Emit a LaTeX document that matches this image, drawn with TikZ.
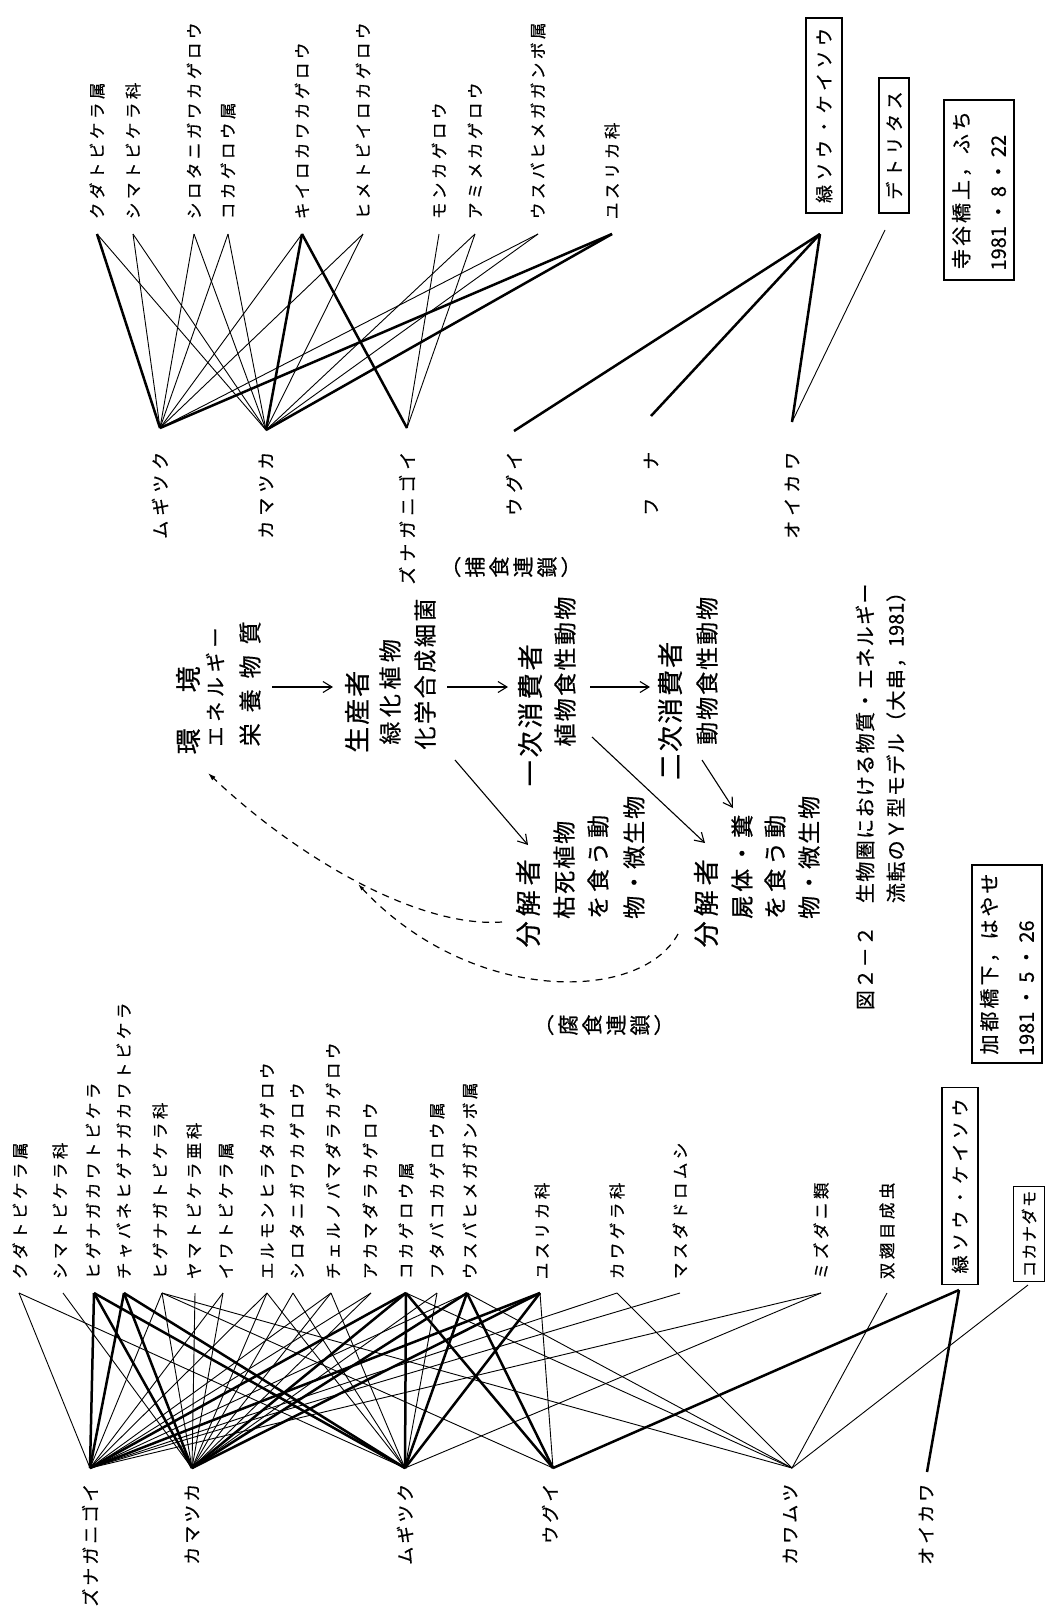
\documentclass[tikz,border=0pt]{standalone}
\usepackage{fontspec}
\setmainfont[FakeBold=0.6]{Noto Sans CJK JP}
\usetikzlibrary{arrows.meta}
\makeatletter
\newcommand\pitched[2]{\def\pt@w{#1}\edef\pt@list{#2}\expandafter\pt@loop\pt@list\pt@end}
\def\pt@loop#1{\ifx#1\pt@end\else\makebox[\pt@w][c]{#1}\expandafter\pt@loop\fi}
\makeatother
\tikzset{
  lab/.style={rotate=90,inner sep=0pt,font=\fontsize{16.5}{16.5}\selectfont},
  fishlab/.style={rotate=90,inner sep=0pt,font=\fontsize{18}{18}\selectfont},
  ctxt/.style={rotate=90,inner sep=0pt,anchor=west,font=\fontsize{23}{23}\selectfont},
  ctxtb/.style={ctxt,font=\fontsize{26}{26}\selectfont},
  lk/.style={line width=0.9pt},
  lkb/.style={line width=2.5pt},
  arr/.style={line width=1.1pt,-{Straight Barb[length=9pt,width=11pt]}},
  dsh/.style={line width=1.2pt,dash pattern=on 7pt off 6pt},
  boxed/.style={draw,line width=1.2pt,rotate=90,inner sep=0pt,font=\fontsize{18}{18}\selectfont},
}
\begin{document}
\begin{tikzpicture}[x=1pt,y=-1pt]
\fill[white] (0,0) rectangle (1052,1612);
\useasboundingbox (0,0) rectangle (1052,1612);

% ================= upper food web =================
\foreach \n/\x/\t in {1/97/クダトビケラ属,2/133/シマトビケラ科,3/194/シロタニガワカゲロウ,4/228/コカゲロウ属,5/302/キイロカワカゲロウ,6/363/ヒメトビイロカゲロウ,7/439/モンカゲロウ,8/475/アミメカゲロウ,9/538/ウスバヒメガガンボ属,10/612/ユスリカ科}{
  \node[lab,anchor=west] (ut\n) at (\x,221) {\pitched{20pt}{\t}};
  \coordinate (ua\n) at (\x,234);
}
\foreach \n/\x/\y/\t in {1/160/428/ムギツク,2/266/430/カマツカ,3/407/428/ズナガニゴイ,4/514/431/ウグイ,5/651/416/フ　ナ,6/792/422/オイカワ}{
  \node[fishlab,anchor=east] (uf\n) at (\x,449) {\pitched{23pt}{\t}};
  \coordinate (ub\n) at (\x,\y);
}
\node[boxed,minimum width=195pt,minimum height=36pt] (ugreen) at (824,115.5) {\pitched{22.4pt}{緑ソウ・ケイソウ}};
\node[boxed,minimum width=135pt,minimum height=30pt] (udet) at (894,145.5) {\pitched{22.6pt}{デトリタス}};
\node[boxed,minimum width=180pt,minimum height=70pt,align=left,font=\fontsize{20}{37}\selectfont] (uinfo) at (979,190) {\pitched{23pt}{寺谷橋上，ふち}\\1981 ・ 8 ・ 22};
\coordinate (ugp) at (820,234);
\coordinate (udp) at (885,230);

\foreach \a/\b in {ua2/ub1,ua3/ub1,ua4/ub1,ua5/ub1,ua6/ub1,ua9/ub1,
  ua1/ub2,ua2/ub2,ua3/ub2,ua4/ub2,ua6/ub2,ua8/ub2,ua9/ub2,
  ua7/ub3,ua8/ub3,udp/ub6}
  \draw[lk] (\a) -- (\b);
\foreach \a/\b in {ua1/ub1,ua10/ub1,ua5/ub2,ua10/ub2,ua5/ub3,ugp/ub4,ugp/ub5,ugp/ub6}
  \draw[lkb] (\a) -- (\b);

% ================= centre model =================
\node[ctxtb] (kankyo) at (188,757) {\pitched{31pt}{環　境}};
\node[ctxt,font=\fontsize{20}{20}\selectfont] (energy) at (215,749) {\pitched{24.7pt}{エネルギー}};
\node[ctxt] (eiyou) at (250,752) {\pitched{34pt}{栄養物質}};
\node[ctxtb] (seisan) at (357,754) {\pitched{28pt}{生産者}};
\node[ctxt] (ryoku) at (390,747) {\pitched{27.5pt}{緑化植物}};
\node[ctxt] (kagaku) at (425,751) {\pitched{25.6pt}{化学合成細菌}};
\node[ctxtb] (ichiji) at (530,788) {\pitched{29pt}{一次消費者}};
\node[ctxt] (shokub) at (565,748) {\pitched{25.4pt}{植物食性動物}};
\node[ctxtb] (niji) at (670,781) {\pitched{28pt}{二次消費者}};
\node[ctxt] (doubut) at (707,746) {\pitched{25pt}{動物食性動物}};
\node[ctxtb] (bunkai1) at (528,950) {\pitched{31pt}{分解者}};
\node[ctxt] (koshi) at (564,920) {\pitched{25pt}{枯死植物}};
\node[ctxt] (kuu1) at (598,921) {\pitched{27pt}{を食う動}};
\node[ctxt] (bisei1) at (634,920) {\pitched{25pt}{物・微生物}};
\node[ctxtb] (bunkai2) at (706,950) {\pitched{31pt}{分解者}};
\node[ctxt] (shitai) at (742,921) {\pitched{27pt}{屍体・糞}};
\node[ctxt] (kuu2) at (775,921) {\pitched{27pt}{を食う動}};
\node[ctxt] (bisei2) at (809,920) {\pitched{25pt}{物・微生物}};
\node[rotate=90,inner sep=0pt,align=center,font=\fontsize{21}{24}\selectfont] (hoshoku) at (517,567) {︵\\捕\\食\\連\\鎖\\︶};
\node[rotate=90,inner sep=0pt,align=center,font=\fontsize{21}{24}\selectfont] (fushoku) at (610,1025) {︵\\腐\\食\\連\\鎖\\︶};

\coordinate (a1s) at (272,687); \coordinate (a1e) at (333,687);
\coordinate (a2s) at (447,687); \coordinate (a2e) at (508,687);
\coordinate (a3s) at (590,687); \coordinate (a3e) at (650,687);
\coordinate (d1s) at (455,760); \coordinate (d1e) at (528,845);
\coordinate (d2s) at (592,737); \coordinate (d2e) at (705,843);
\coordinate (d3s) at (702,760); \coordinate (d3e) at (733,808);
\foreach \a/\b in {a1s/a1e,a2s/a2e,a3s/a3e,d1s/d1e,d2s/d2e,d3s/d3e}
  \draw[arr] (\a) -- (\b);
\coordinate (c1s) at (502,922); \coordinate (c1e) at (208,773);
\coordinate (c2s) at (678,934); \coordinate (c2e) at (358,884);
\draw[dsh,-{Latex[length=8pt,width=5pt]}] (c1s) .. controls (420,928) and (300,860) .. (c1e);
\draw[dsh,-{Latex[length=7pt,width=4pt]}] (c2s) .. controls (640,1004) and (470,1004) .. (c2e);

\node[rotate=90,inner sep=0pt,anchor=west,font=\fontsize{20}{20}\selectfont] (cap1) at (865,1011) {\pitched{21.4pt}{図２－２　生物圏における物質・エネルギー}};
\node[rotate=90,inner sep=0pt,anchor=west,font=\fontsize{20}{20}\selectfont] (cap2) at (896,904) {\pitched{21.4pt}{流転のＹ型モデル（大串，}1981\pitched{21.4pt}{）}};

% ================= lower food web =================
\foreach \n/\x/\t in {1/20/クダトビケラ属,2/60/シマトビケラ科,3/93/ヒゲナガカワトビケラ,4/124/チャバネヒゲナガカワトビケラ,5/160/ヒゲナガトビケラ科,6/194/ヤマトビケラ亜科,7/226/イワトビケラ属,8/267/エルモンヒラタカゲロウ,9/297/シロタニガワカゲロウ,10/333/チェルノバマダラカゲロウ,11/370/アカマダラカゲロウ,12/406/コカゲロウ属,13/437/フタバコカゲロウ属,14/470/ウスバヒメガガンボ属,15/542/ユスリカ科,16/617/カワゲラ科,17/680/マスダドロムシ,18/821/ミズダニ類,19/887/双翅目成虫}{
  \node[lab,anchor=west] (lt\n) at (\x,1281) {\pitched{20pt}{\t}};
}
\foreach \n/\x in {1/19,2/63,3/94,4/124,5/162,6/195,7/223,8/267,9/293,10/331,11/371,12/406,13/437,14/467,15/540,16/617,17/680,18/821,19/887}
  \coordinate (la\n) at (\x,1293);
\node[boxed,minimum width=197pt,minimum height=36pt] (lgreen) at (960,1186) {\pitched{22.4pt}{緑ソウ・ケイソウ}};
\node[boxed,minimum width=95pt,minimum height=31pt,font=\fontsize{16}{16}\selectfont] (lkana) at (1029,1234) {\pitched{17.5pt}{コカナダモ}};
\coordinate (la20) at (959,1290);
\coordinate (la21) at (1028,1285);
\node[boxed,minimum width=198pt,minimum height=70pt,align=left,font=\fontsize{20}{37}\selectfont] (linfo) at (1007,964) {\pitched{23pt}{加都橋下，はやせ}\\1981 ・ 5 ・ 26};

\foreach \n/\x/\t in {1/90/ズナガニゴイ,2/192/カマツカ,3/405/ムギツク,4/550/ウグイ,5/790/カワムツ,6/926/オイカワ}{
  \node[fishlab,anchor=east] (lf\n) at (\x,1482) {\pitched{21pt}{\t}};
}
\foreach \n/\x in {1/90,2/192,3/405,4/553,5/792}
  \coordinate (lb\n) at (\x,1468);
\coordinate (lb6) at (927,1472);

\foreach \a/\b in {la1/lb1,la5/lb1,la7/lb1,la8/lb1,la10/lb1,la11/lb1,la14/lb1,la16/lb1,la17/lb1,la18/lb1,
  la2/lb2,la5/lb2,la6/lb2,la7/lb2,la8/lb2,la9/lb2,la10/lb2,la11/lb2,la13/lb2,
  la1/lb3,la8/lb3,la9/lb3,la10/lb3,la13/lb3,la18/lb3,
  la5/lb4,la15/lb4,
  la5/lb5,la12/lb5,la14/lb5,la16/lb5,la19/lb5,la21/lb5}
  \draw[lk] (\a) -- (\b);
\foreach \a/\b in {la3/lb1,la4/lb1,la12/lb1,la15/lb1,la3/lb2,la4/lb2,la12/lb2,la14/lb2,la15/lb2,
  la3/lb3,la4/lb3,la12/lb3,la14/lb3,la15/lb3,la12/lb4,la14/lb4,la20/lb4,la20/lb6}
  \draw[lkb] (\a) -- (\b);
\end{tikzpicture}
\end{document}
